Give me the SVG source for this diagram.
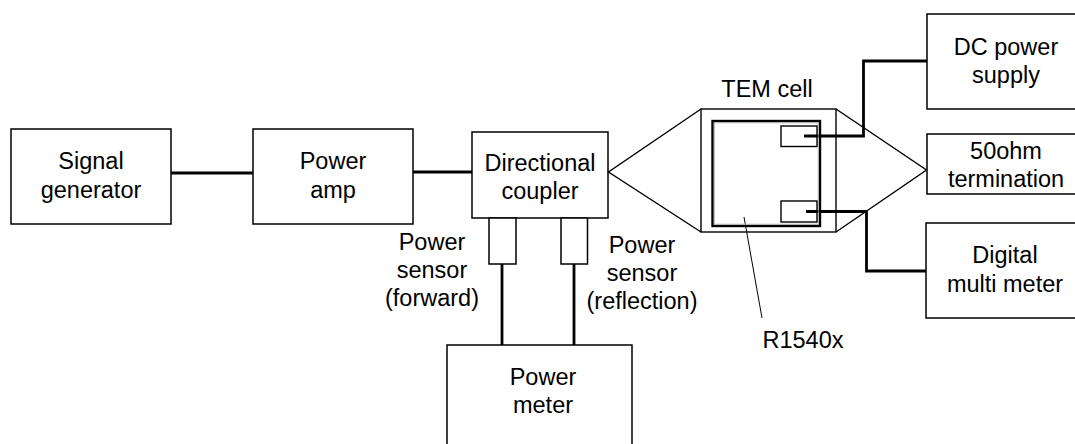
<svg xmlns="http://www.w3.org/2000/svg" width="1075" height="444" viewBox="0 0 1075 444">
<style>
.box{fill:#fff;stroke:#000;stroke-width:1.5}
.thin{fill:none;stroke:#000;stroke-width:1.4}
.wire{fill:none;stroke:#000;stroke-width:2.8}
.t{font-family:"Liberation Sans",Arial,sans-serif;font-size:23.5px;fill:#000;text-anchor:middle}
</style>
<rect width="1075" height="444" fill="#fff"/>
<g id="connectors">
<line class="wire" x1="171" y1="173" x2="253" y2="173"/>
<line class="wire" x1="413" y1="172" x2="472" y2="172"/>
<line class="wire" x1="502" y1="264" x2="502" y2="345"/>
<line class="wire" x1="574" y1="264" x2="574" y2="345"/>
<polyline class="wire" points="804,136 863.5,136 863.5,61 927,61"/>
<polyline class="wire" points="806,211.5 866.5,211.5 866.5,271 927,271"/>
<line x1="744" y1="217" x2="762" y2="318" stroke="#000" stroke-width="1"/>
</g>
<g id="signal-generator">
<rect class="box" x="11" y="129" width="160" height="95"/>
<text class="t" x="91" y="169">Signal</text>
<text class="t" x="91" y="198">generator</text>
</g>
<g id="power-amp">
<rect class="box" x="253" y="129" width="160" height="95"/>
<text class="t" x="333" y="169">Power</text>
<text class="t" x="333" y="198">amp</text>
</g>
<g id="directional-coupler">
<rect class="box" x="472" y="132" width="136" height="86"/>
<text class="t" x="540" y="171">Directional</text>
<text class="t" x="540" y="199">coupler</text>
</g>
<g id="power-sensor-forward">
<rect class="box" x="489" y="218" width="27" height="46"/>
<text class="t" x="432" y="250">Power</text>
<text class="t" x="432" y="278">sensor</text>
<text class="t" x="432" y="306">(forward)</text>
</g>
<g id="power-sensor-reflection">
<rect class="box" x="561" y="218" width="26.5" height="46"/>
<text class="t" x="642" y="253">Power</text>
<text class="t" x="642" y="281">sensor</text>
<text class="t" x="642" y="309">(reflection)</text>
</g>
<g id="power-meter">
<rect class="box" x="447" y="345" width="185" height="110"/>
<text class="t" x="543" y="385">Power</text>
<text class="t" x="543" y="413">meter</text>
</g>
<g id="tem-cell">
<polyline class="thin" points="701,109 608.5,172 701,232"/>
<polyline class="thin" points="836,109 926.5,170 836,232"/>
<rect class="thin" x="701" y="109" width="135" height="123"/>
<rect x="712.5" y="121" width="107.5" height="105" fill="none" stroke="#000" stroke-width="2.4"/>
<rect x="714.3" y="122.8" width="103.9" height="101.4" fill="none" stroke="#aaa" stroke-width="0.9"/>
<text class="t" x="767" y="97">TEM cell</text>
</g>
<g id="probe-top">
<rect class="thin" x="781" y="126" width="36" height="20.5"/>
</g>
<g id="probe-bottom">
<rect class="thin" x="781" y="201" width="36" height="21"/>
</g>
<g id="dc-power-supply">
<rect class="box" x="927" y="14" width="160" height="95"/>
<text class="t" x="1006" y="55">DC power</text>
<text class="t" x="1006" y="83">supply</text>
</g>
<g id="termination">
<rect class="box" x="927" y="134" width="160" height="60"/>
<text class="t" x="1006" y="159">50ohm</text>
<text class="t" x="1006" y="187">termination</text>
</g>
<g id="digital-multi-meter">
<rect class="box" x="926" y="223" width="160" height="95"/>
<text class="t" x="1005" y="263">Digital</text>
<text class="t" x="1005" y="292">multi meter</text>
</g>
<g id="r1540x">
<text class="t" x="803" y="348">R1540x</text>
</g>
</svg>
